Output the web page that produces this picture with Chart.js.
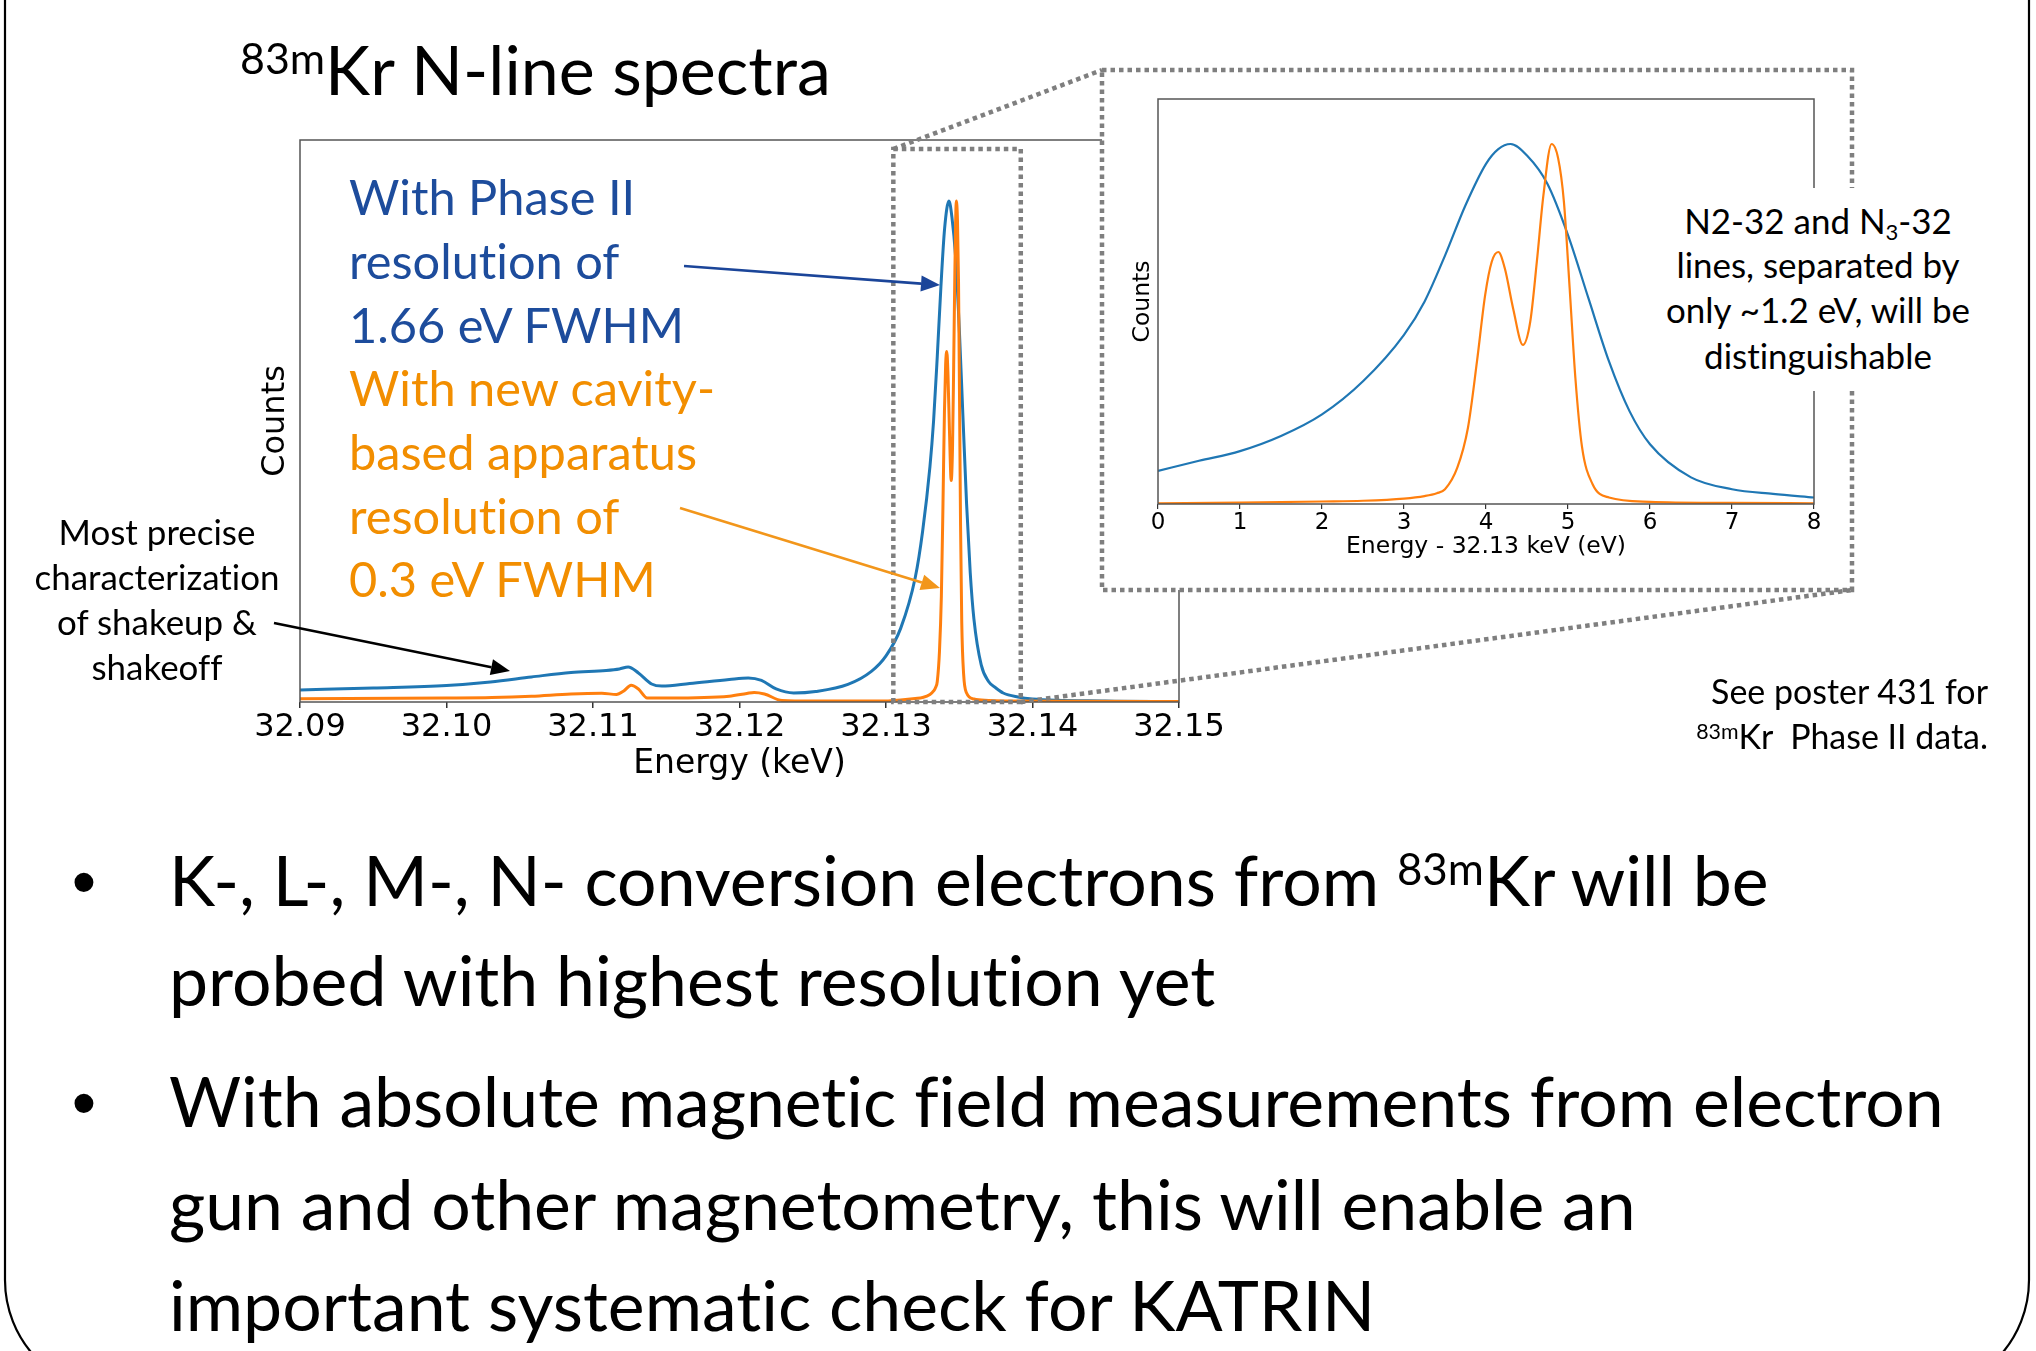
<!DOCTYPE html>
<html>
<head>
<meta charset="utf-8">
<script src="https://cdn.jsdelivr.net/npm/chart.js@4.4.1/dist/chart.umd.min.js"></script>
<style>
  html, body { margin: 0; padding: 0; background: #fff; }
  body { width: 2036px; height: 1351px; position: relative; overflow: hidden; font-family: Lato, 'Open Sans', sans-serif; }
  canvas { position: absolute; }
  #mainCanvas { left: 200px; top: 120px; z-index: 1; }
  #insetPanel { position: absolute; left: 1102px; top: 70px; width: 750px; height: 520px; background: #fff; z-index: 2; }
  #insetCanvas { left: 1108px; top: 90px; z-index: 3; }
  #overlay { left: 0; top: 0; z-index: 4; }
  #noteBox { position: absolute; left: 1662px; top: 188px; width: 328px; height: 203px; background: #fff; z-index: 5; }
  .txt { position: absolute; white-space: nowrap; z-index: 6; line-height: 1.2; font-variant-ligatures: none; font-feature-settings: "liga" 0, "clig" 0; }
  .txt sup { font-size: 0.63em; vertical-align: 0.48em; line-height: 0; }
  .txt sub { font-size: 0.63em; vertical-align: -0.25em; line-height: 0; }
  .mark { display: inline-block; width: 0; height: 0; vertical-align: baseline; }
</style>
</head>
<body>
<canvas id="mainCanvas" width="1060" height="700"></canvas>
<div id="insetPanel"></div>
<canvas id="insetCanvas" width="716" height="480"></canvas>
<canvas id="overlay" width="2036" height="1351"></canvas>
<div id="noteBox"></div>

<script>
// main spectrum, energy in keV, counts normalised to the N-line peak
const mainTicks = [32.09, 32.10, 32.11, 32.12, 32.13, 32.14, 32.15]

const mainEnergyBlue = [32.0900, 32.0950, 32.1000, 32.1030, 32.1058, 32.1085, 32.1109, 32.1118, 32.1124, 32.1131,
  32.1140, 32.1147, 32.1166, 32.1193, 32.1206, 32.1215, 32.1225, 32.1237, 32.1252, 32.1274,
  32.1290, 32.1300, 32.1310, 32.1320, 32.1325, 32.1330, 32.13325, 32.1335, 32.13375, 32.1340,
  32.1343, 32.1345, 32.13475, 32.1350, 32.13525, 32.1355, 32.13575, 32.1360, 32.1365, 32.1370,
  32.1375, 32.1380, 32.1390, 32.1400, 32.1450, 32.1500]
const mainCountsBlue = [0.024, 0.028, 0.033, 0.040, 0.050, 0.059, 0.063, 0.066, 0.070, 0.058,
  0.036, 0.032, 0.037, 0.045, 0.048, 0.043, 0.026, 0.018, 0.021, 0.035,
  0.061, 0.092, 0.147, 0.249, 0.341, 0.470, 0.562, 0.690, 0.830, 0.945,
  1.000, 0.968, 0.889, 0.747, 0.571, 0.396, 0.258, 0.166, 0.074, 0.041,
  0.028, 0.018, 0.010, 0.006, 0.002, 0.001]

const mainEnergyOrange = [32.0900, 32.1000, 32.1031, 32.1058, 32.1085, 32.1106, 32.1116, 32.1121, 32.1126, 32.1131,
  32.1137, 32.1152, 32.1193, 32.1205, 32.1210, 32.1217, 32.1229, 32.1250, 32.1300, 32.1310,
  32.1320, 32.1325, 32.1330, 32.13325, 32.1334, 32.1335, 32.13365, 32.13378, 32.13389, 32.13399,
  32.13407, 32.13415, 32.13423, 32.13433, 32.13445, 32.13454, 32.13462, 32.1347, 32.1348, 32.13488,
  32.13495, 32.13502, 32.13509, 32.13517, 32.1353, 32.1355, 32.1360, 32.1370, 32.1380, 32.1500]
const mainCountsOrange = [0.0065, 0.008, 0.009, 0.0116, 0.016, 0.0174, 0.015, 0.022, 0.0335, 0.026,
  0.008, 0.008, 0.0116, 0.017, 0.019, 0.016, 0.003, 0.002, 0.002, 0.004,
  0.007, 0.009, 0.015, 0.022, 0.030, 0.041, 0.101, 0.212, 0.396, 0.581,
  0.673, 0.700, 0.654, 0.544, 0.442, 0.507, 0.673, 0.857, 1.000, 0.960,
  0.840, 0.600, 0.350, 0.160, 0.055, 0.018, 0.006, 0.003, 0.002, 0.001]

// zoomed inset, energy - 32.13 keV in eV
const insetTicks = [0, 1, 2, 3, 4, 5, 6, 7, 8]

const insetEnergyBlue = [0, 0.5, 1, 1.5, 2, 2.5, 3, 3.25, 3.5, 3.75, 4, 4.15,
  4.3, 4.5, 4.75, 5, 5.25, 5.5, 5.75, 6, 6.5, 7, 7.5, 8]
const insetCountsBlue = [0.092, 0.120, 0.147, 0.189, 0.249, 0.341, 0.470, 0.562, 0.690, 0.830, 0.945, 0.986,
  1.000, 0.968, 0.889, 0.747, 0.571, 0.396, 0.258, 0.166, 0.074, 0.041, 0.028, 0.018]

const insetEnergyOrange = [0, 1, 2, 2.5, 3, 3.25, 3.4, 3.5, 3.65, 3.78, 3.89, 3.99, 4.07, 4.15, 4.23, 4.33,
  4.45, 4.54, 4.62, 4.70, 4.80, 4.88, 4.95, 5.02, 5.09, 5.17, 5.3, 5.5, 6, 7, 8]
const insetCountsOrange = [0.002, 0.004, 0.007, 0.009, 0.015, 0.022, 0.030, 0.041, 0.101, 0.212, 0.396, 0.581, 0.673, 0.700, 0.654, 0.544,
  0.442, 0.507, 0.673, 0.857, 1.000, 0.960, 0.840, 0.600, 0.350, 0.160, 0.055, 0.018, 0.006, 0.003, 0.002]

// region of the main plot shown in the inset
const zoomBoxEnergy = [32.1305, 32.1392]
const zoomBoxTop = 1.104

const BLUE = '#1f77b4'
const ORANGE = '#ff7f0e'

Chart.defaults.font.family = "'DejaVu Sans', sans-serif"
Chart.defaults.color = '#000'

const toXY = (xs, ys) => xs.map((x, i) => ({ x, y: ys[i] }))

const frame = {
  id: 'frame',
  afterDatasetsDraw(chart) {
    const { ctx, chartArea: a } = chart
    ctx.save()
    ctx.strokeStyle = '#555'
    ctx.lineWidth = 1.5
    ctx.strokeRect(a.left, a.top, a.right - a.left, a.bottom - a.top)
    ctx.restore()
  }
}

const mainChart = new Chart(document.getElementById('mainCanvas'), {
  type: 'line',
  data: {
    datasets: [
      { label: 'Phase II', data: toXY(mainEnergyBlue, mainCountsBlue), borderColor: BLUE, borderWidth: 3,
        pointRadius: 0, cubicInterpolationMode: 'monotone', order: 2 },
      { label: 'Cavity', data: toXY(mainEnergyOrange, mainCountsOrange), borderColor: ORANGE, borderWidth: 3,
        pointRadius: 0, cubicInterpolationMode: 'monotone', order: 1 }
    ]
  },
  options: {
    responsive: false,
    animation: false,
    devicePixelRatio: 1,
    layout: { padding: { top: 20, right: 81, left: 0, bottom: 0 } },
    plugins: { legend: { display: false }, tooltip: { enabled: false } },
    scales: {
      x: {
        type: 'linear', min: 32.09, max: 32.15,
        afterBuildTicks: (s) => { s.ticks = mainTicks.map(v => ({ value: v })) },
        afterFit: (s) => { s.height = 118 },
        ticks: { color: '#000', font: { size: 32 }, padding: 0, maxRotation: 0, autoSkip: false,
          callback: (v) => Number(v).toFixed(2) },
        grid: { display: true, drawOnChartArea: false, drawTicks: true, tickLength: 6, color: '#333', tickColor: '#333', lineWidth: 1.5 },
        border: { display: false },
        title: { display: true, text: 'Energy (keV)', color: '#000', font: { size: 33 }, padding: { top: 0, bottom: 36 } }
      },
      y: {
        min: 0, max: 1.122,
        afterFit: (s) => { s.width = 100 },
        ticks: { display: false },
        grid: { display: false },
        border: { display: false },
        title: { display: true, text: 'Counts', color: '#000', font: { size: 32 }, padding: { top: 56, bottom: 0 } }
      }
    }
  },
  plugins: [frame]
})

const insetChart = new Chart(document.getElementById('insetCanvas'), {
  type: 'line',
  data: {
    datasets: [
      { label: 'Phase II', data: toXY(insetEnergyBlue, insetCountsBlue), borderColor: BLUE, borderWidth: 2.2,
        pointRadius: 0, cubicInterpolationMode: 'monotone', order: 2 },
      { label: 'Cavity', data: toXY(insetEnergyOrange, insetCountsOrange), borderColor: ORANGE, borderWidth: 2.2,
        pointRadius: 0, cubicInterpolationMode: 'monotone', order: 1 }
    ]
  },
  options: {
    responsive: false,
    animation: false,
    devicePixelRatio: 1,
    layout: { padding: { top: 9, right: 10, left: 0, bottom: 0 } },
    plugins: { legend: { display: false }, tooltip: { enabled: false } },
    scales: {
      x: {
        type: 'linear', min: 0, max: 8,
        afterBuildTicks: (s) => { s.ticks = insetTicks.map(v => ({ value: v })) },
        afterFit: (s) => { s.height = 66 },
        ticks: { color: '#000', font: { size: 23 }, padding: 0, maxRotation: 0, autoSkip: false },
        grid: { display: true, drawOnChartArea: false, drawTicks: true, tickLength: 5, color: '#333', tickColor: '#333', lineWidth: 1.2 },
        border: { display: false },
        title: { display: true, text: 'Energy - 32.13 keV (eV)', color: '#000', font: { size: 23.5 }, padding: { top: 0, bottom: 9 } }
      },
      y: {
        min: 0, max: 1.125,
        afterFit: (s) => { s.width = 50 },
        ticks: { display: false },
        grid: { display: false },
        border: { display: false },
        title: { display: true, text: 'Counts', color: '#000', font: { size: 23.5 }, padding: { top: 21, bottom: 0 } }
      }
    }
  },
  plugins: [frame]
})

// dotted boxes, connectors, arrows and slide outline
const ov = document.getElementById('overlay').getContext('2d')

function arrow(x1, y1, x2, y2, color) {
  const ang = Math.atan2(y2 - y1, x2 - x1)
  const len = 19, half = 8
  const bx = x2 - len * Math.cos(ang), by = y2 - len * Math.sin(ang)
  ov.save()
  ov.strokeStyle = color
  ov.fillStyle = color
  ov.lineWidth = 2.6
  ov.beginPath()
  ov.moveTo(x1, y1)
  ov.lineTo(bx, by)
  ov.stroke()
  ov.beginPath()
  ov.moveTo(x2, y2)
  ov.lineTo(bx + half * Math.sin(ang), by - half * Math.cos(ang))
  ov.lineTo(bx - half * Math.sin(ang), by + half * Math.cos(ang))
  ov.closePath()
  ov.fill()
  ov.restore()
}

function drawOverlay() {
  // slide outline with rounded lower corners
  ov.save()
  ov.strokeStyle = '#000'
  ov.lineWidth = 2.2
  ov.beginPath()
  ov.roundRect(5, -300, 2024, 1693, 113)
  ov.stroke()
  ov.restore()

  const mx = mainChart.scales.x, my = mainChart.scales.y
  const bx0 = 200 + mx.getPixelForValue(zoomBoxEnergy[0])
  const bx1 = 200 + mx.getPixelForValue(zoomBoxEnergy[1])
  const by0 = 120 + my.getPixelForValue(zoomBoxTop)
  const by1 = 120 + my.getPixelForValue(0)

  const panel = document.getElementById('insetPanel').getBoundingClientRect()

  ov.save()
  ov.strokeStyle = '#7f7f7f'
  ov.lineWidth = 4.5
  ov.setLineDash([4.5, 4])
  ov.strokeRect(bx0, by0, bx1 - bx0, by1 - by0)
  ov.strokeRect(panel.left, panel.top, panel.width, panel.height)
  ov.beginPath()
  ov.moveTo(bx0, by0)
  ov.lineTo(panel.left, panel.top)
  ov.moveTo(bx1, by1)
  ov.lineTo(panel.right, panel.bottom)
  ov.stroke()
  ov.restore()

  arrow(684, 266, 940, 285, '#1b4599')
  arrow(680, 508, 940, 588, '#f2961b')
  arrow(274, 623, 510, 671, '#000')
}
drawOverlay()

// slide text
const DARKBLUE = '#1d4c9c'
const TEXTORANGE = '#f28e00'

const textGroups = [
  { align: 'left', ref: 0, refWidth: 591, lines: [
    { html: '<sup>83m</sup>Kr N-line spectra', x: 240, base: 95 }
  ] },
  { align: 'left', ref: 3, refWidth: 366, lines: [
    { html: 'With Phase II', x: 349, base: 215, color: DARKBLUE },
    { html: 'resolution of', x: 349, base: 279, color: DARKBLUE },
    { html: '1.66 eV FWHM', x: 349, base: 343, color: DARKBLUE },
    { html: 'With new cavity-', x: 349, base: 406, color: TEXTORANGE },
    { html: 'based apparatus', x: 349, base: 470, color: TEXTORANGE },
    { html: 'resolution of', x: 349, base: 534, color: TEXTORANGE },
    { html: '0.3 eV FWHM', x: 349, base: 597, color: TEXTORANGE }
  ] },
  { align: 'center', ref: 1, refWidth: 245, lines: [
    { html: 'Most precise', x: 157, base: 545 },
    { html: 'characterization', x: 157, base: 590 },
    { html: 'of shakeup &amp;', x: 157, base: 635 },
    { html: 'shakeoff', x: 157, base: 680 }
  ] },
  { align: 'right', ref: 0, refWidth: 277, lines: [
    { html: 'See poster 431 for', x: 1988, base: 704 },
    { html: '<sup>83m</sup>Kr&nbsp; Phase II data.', x: 1988, base: 749 }
  ] },
  { align: 'center', ref: 2, refWidth: 304, lines: [
    { html: 'N2-32 and N<sub>3</sub>-32', x: 1818, base: 234 },
    { html: 'lines, separated by', x: 1818, base: 278 },
    { html: 'only ~1.2 eV, will be', x: 1818, base: 323 },
    { html: 'distinguishable', x: 1818, base: 369 }
  ] },
  { align: 'left', ref: 2, refWidth: 1775, bullets: [0, 2], bulletX: 84, lines: [
    { html: 'K-, L-, M-, N- conversion electrons from <sup>83m</sup>Kr will be', x: 169, base: 906 },
    { html: 'probed with highest resolution yet', x: 169, base: 1006 },
    { html: 'With absolute magnetic field measurements from electron', x: 169, base: 1127 },
    { html: 'gun and other magnetometry, this will enable an', x: 169, base: 1230 },
    { html: 'important systematic check for KATRIN', x: 169, base: 1331 }
  ] }
]

function makeLine(html, size, color) {
  const d = document.createElement('div')
  d.className = 'txt'
  d.innerHTML = html + '<span class="mark"></span>'
  d.style.fontSize = size + 'px'
  d.style.color = color || '#000'
  d.style.left = '0px'
  d.style.top = '0px'
  document.body.appendChild(d)
  return d
}

function placeLine(d, x, base, align) {
  const r = d.getBoundingClientRect()
  const m = d.querySelector('.mark').getBoundingClientRect()
  const baseOff = m.top - r.top
  let left = x
  if (align === 'center') left = x - r.width / 2
  if (align === 'right') left = x - r.width
  d.style.left = left + 'px'
  d.style.top = (base - baseOff) + 'px'
}

textGroups.forEach(g => {
  const probe = makeLine(g.lines[g.ref].html, 100)
  const w = probe.getBoundingClientRect().width
  probe.remove()
  const size = 100 * g.refWidth / w
  g.lines.forEach(l => placeLine(makeLine(l.html, size, l.color), l.x, l.base, g.align))
  if (g.bullets) {
    g.bullets.forEach(i => {
      const b = makeLine('&bull;', size)
      b.style.fontFamily = "'Liberation Sans', Arial, sans-serif"
      placeLine(b, g.bulletX, g.lines[i].base, 'center')
    })
  }
})
</script>
</body>
</html>
